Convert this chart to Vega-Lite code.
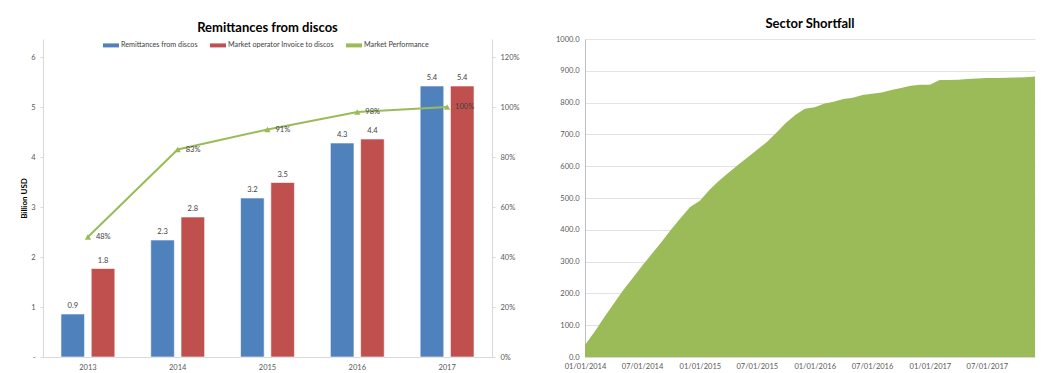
{
  "$schema": "https://vega.github.io/schema/vega-lite/v6.json",
  "background": "white",
  "padding": {"left": 20, "top": 18, "right": 4, "bottom": 0},
  "config": {
    "font": "Lato",
    "view": {"stroke": null},
    "concat": {"spacing": 35},
    "axis": {"labelFontSize": 7.5, "labelColor": "#595959", "domainColor": "#d9d9d9", "tickColor": "#d9d9d9", "titleFontSize": 8, "titleColor": "black"},
    "title": {"fontSize": 13, "fontWeight": "bold", "color": "black", "anchor": "middle"}
  },
  "datasets": {
    "bars": [
      {"year": "2013", "series": "Remittances from discos", "value": 0.86},
      {"year": "2013", "series": "Market operator Invoice to discos", "value": 1.77},
      {"year": "2014", "series": "Remittances from discos", "value": 2.34},
      {"year": "2014", "series": "Market operator Invoice to discos", "value": 2.8},
      {"year": "2015", "series": "Remittances from discos", "value": 3.18},
      {"year": "2015", "series": "Market operator Invoice to discos", "value": 3.49},
      {"year": "2016", "series": "Remittances from discos", "value": 4.28},
      {"year": "2016", "series": "Market operator Invoice to discos", "value": 4.36},
      {"year": "2017", "series": "Remittances from discos", "value": 5.42},
      {"year": "2017", "series": "Market operator Invoice to discos", "value": 5.42}
    ],
    "perf": [
      {"year": "2013", "series": "Market Performance", "perf": 0.48},
      {"year": "2014", "series": "Market Performance", "perf": 0.83},
      {"year": "2015", "series": "Market Performance", "perf": 0.91},
      {"year": "2016", "series": "Market Performance", "perf": 0.98},
      {"year": "2017", "series": "Market Performance", "perf": 1.0}
    ],
    "shortfall": [
      {"date": "2014-01-01", "value": 38},
      {"date": "2014-02-01", "value": 80},
      {"date": "2014-03-01", "value": 122},
      {"date": "2014-04-01", "value": 166},
      {"date": "2014-05-01", "value": 208},
      {"date": "2014-06-01", "value": 248},
      {"date": "2014-07-01", "value": 286},
      {"date": "2014-08-01", "value": 324},
      {"date": "2014-09-01", "value": 362},
      {"date": "2014-10-01", "value": 400},
      {"date": "2014-11-01", "value": 437},
      {"date": "2014-12-01", "value": 472},
      {"date": "2015-01-01", "value": 491},
      {"date": "2015-02-01", "value": 526},
      {"date": "2015-03-01", "value": 553},
      {"date": "2015-04-01", "value": 579},
      {"date": "2015-05-01", "value": 603},
      {"date": "2015-06-01", "value": 627},
      {"date": "2015-07-01", "value": 651},
      {"date": "2015-08-01", "value": 675},
      {"date": "2015-09-01", "value": 705},
      {"date": "2015-10-01", "value": 736},
      {"date": "2015-11-01", "value": 762},
      {"date": "2015-12-01", "value": 781},
      {"date": "2016-01-01", "value": 785},
      {"date": "2016-02-01", "value": 797},
      {"date": "2016-03-01", "value": 803},
      {"date": "2016-04-01", "value": 811},
      {"date": "2016-05-01", "value": 815},
      {"date": "2016-06-01", "value": 824},
      {"date": "2016-07-01", "value": 828},
      {"date": "2016-08-01", "value": 832},
      {"date": "2016-09-01", "value": 840},
      {"date": "2016-10-01", "value": 846},
      {"date": "2016-11-01", "value": 853},
      {"date": "2016-12-01", "value": 856},
      {"date": "2017-01-01", "value": 856},
      {"date": "2017-02-01", "value": 871},
      {"date": "2017-03-01", "value": 871},
      {"date": "2017-04-01", "value": 872},
      {"date": "2017-05-01", "value": 874},
      {"date": "2017-06-01", "value": 876},
      {"date": "2017-07-01", "value": 877},
      {"date": "2017-08-01", "value": 877},
      {"date": "2017-09-01", "value": 878},
      {"date": "2017-10-01", "value": 879},
      {"date": "2017-11-01", "value": 880},
      {"date": "2017-12-01", "value": 882}
    ]
  },
  "hconcat": [
    {
      "title": {"text": "Remittances from discos", "offset": 4},
      "width": 449,
      "height": 318,
      "layer": [
        {
          "data": {"name": "bars"},
          "layer": [
            {
              "mark": {"type": "bar", "stroke": "white", "strokeWidth": 0.6},
              "encoding": {
                "x": {"field": "year", "type": "nominal", "scale": {"paddingInner": 0.4, "paddingOuter": 0.2},
                      "axis": {"title": null, "labelAngle": 0, "ticks": false, "labelPadding": 6}},
                "xOffset": {"field": "series", "type": "nominal", "sort": ["Remittances from discos", "Market operator Invoice to discos"], "scale": {"paddingInner": 0.22}},
                "y": {"field": "value", "type": "quantitative", "scale": {"domain": [0, 6.36], "nice": false},
                      "axis": {"title": "Billion USD", "values": [0, 1, 2, 3, 4, 5, 6], "grid": false, "tickSize": 3, "labelPadding": 5, "titlePadding": 2,
                               "labelExpr": "datum.value == 0 ? '-' : datum.label"}},
                "color": {"field": "series", "type": "nominal",
                          "scale": {"domain": ["Remittances from discos", "Market operator Invoice to discos", "Market Performance"], "range": ["#4F81BD", "#C0504D", "#9BBB59"]},
                          "legend": {"title": null, "orient": "none", "direction": "horizontal", "legendX": 60, "legendY": -2,
                                     "symbolType": "M-1,-0.25H1V0.25H-1Z", "symbolSize": 256, "symbolStrokeWidth": 0,
                                     "labelFontSize": 7.2, "labelColor": "#404040", "columnPadding": 12, "labelOffset": 2}}
              }
            },
            {
              "mark": {"type": "text", "dy": -8, "fontSize": 7.5, "color": "#404040"},
              "encoding": {
                "x": {"field": "year", "type": "nominal"},
                "xOffset": {"field": "series", "type": "nominal", "sort": ["Remittances from discos", "Market operator Invoice to discos"]},
                "y": {"field": "value", "type": "quantitative"},
                "text": {"field": "value", "type": "quantitative", "format": ".1f"}
              }
            }
          ]
        },
        {
          "data": {"name": "perf"},
          "layer": [
            {
              "mark": {"type": "line", "strokeWidth": 2},
              "encoding": {
                "x": {"field": "year", "type": "nominal"},
                "y": {"field": "perf", "type": "quantitative", "scale": {"domain": [0, 1.272], "nice": false},
                      "axis": {"orient": "right", "title": null, "format": ".0%", "values": [0, 0.2, 0.4, 0.6, 0.8, 1.0, 1.2], "grid": false, "tickSize": 3, "labelPadding": 5}},
                "color": {"field": "series", "type": "nominal"}
              }
            },
            {
              "mark": {"type": "point", "shape": "triangle-up", "filled": true, "size": 40, "opacity": 1},
              "encoding": {
                "x": {"field": "year", "type": "nominal"},
                "y": {"field": "perf", "type": "quantitative"},
                "color": {"field": "series", "type": "nominal"}
              }
            },
            {
              "mark": {"type": "text", "dx": 8, "align": "left", "fontSize": 7.5, "color": "#404040"},
              "encoding": {
                "x": {"field": "year", "type": "nominal"},
                "y": {"field": "perf", "type": "quantitative"},
                "text": {"field": "perf", "type": "quantitative", "format": ".0%"}
              }
            }
          ]
        }
      ],
      "resolve": {"scale": {"y": "independent"}}
    },
    {
      "title": {"text": "Sector Shortfall", "offset": 4},
      "width": 450,
      "height": 318,
      "data": {"name": "shortfall"},
      "mark": {"type": "area", "color": "#9BBB59", "opacity": 1},
      "encoding": {
        "x": {"field": "date", "type": "temporal",
              "scale": {"type": "utc", "nice": false, "domain": [{"year": 2014, "month": 1, "date": 1, "utc": true}, {"year": 2017, "month": 12, "date": 1, "utc": true}]},
              "axis": {"title": null, "labelExpr": "utcFormat(datum.value, '%m/%d/%Y')", "grid": false, "ticks": false, "labelPadding": 5, "labelFlush": false,
                       "values": [
                         {"year": 2014, "month": 1, "date": 1, "utc": true},
                         {"year": 2014, "month": 7, "date": 1, "utc": true},
                         {"year": 2015, "month": 1, "date": 1, "utc": true},
                         {"year": 2015, "month": 7, "date": 1, "utc": true},
                         {"year": 2016, "month": 1, "date": 1, "utc": true},
                         {"year": 2016, "month": 7, "date": 1, "utc": true},
                         {"year": 2017, "month": 1, "date": 1, "utc": true},
                         {"year": 2017, "month": 7, "date": 1, "utc": true}
                       ]}},
        "y": {"field": "value", "type": "quantitative", "scale": {"domain": [0, 1000]},
              "axis": {"title": null, "format": ".1f", "tickCount": 10, "grid": true, "gridColor": "#e3e3e3", "ticks": false, "labelPadding": 6, "domainColor": "#bfbfbf"}}
      }
    }
  ]
}
